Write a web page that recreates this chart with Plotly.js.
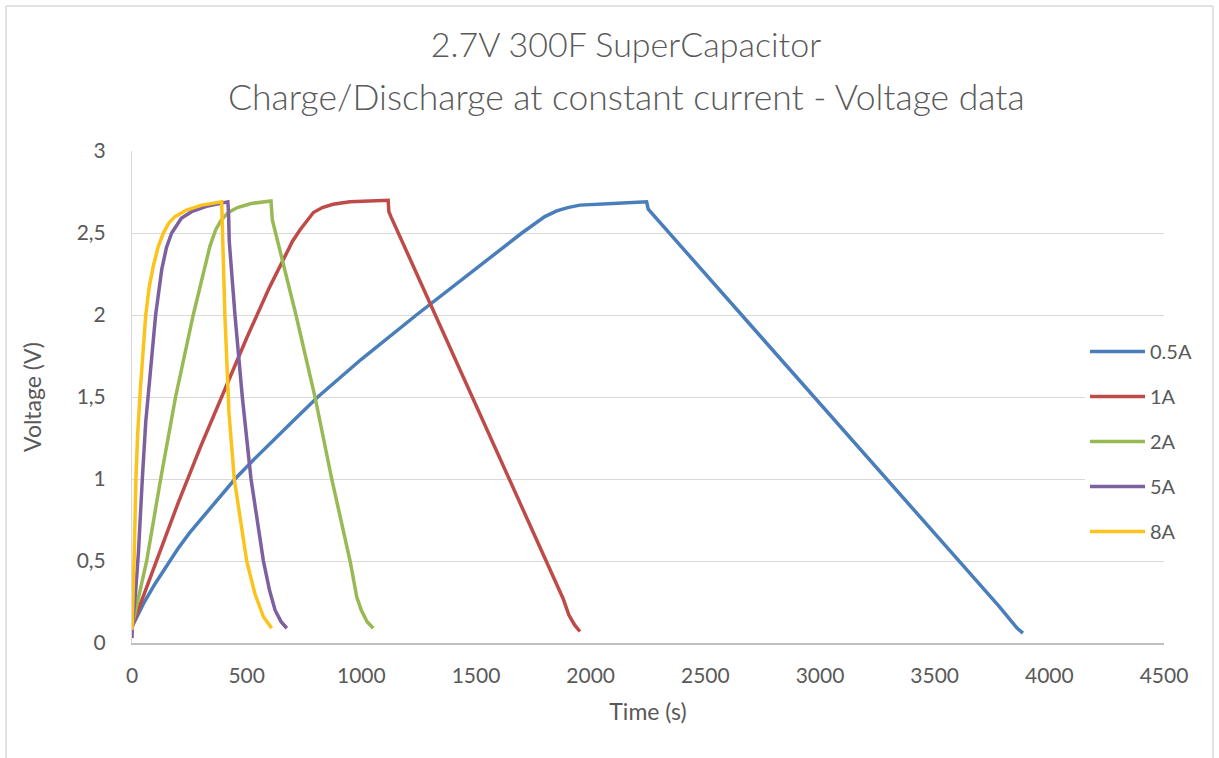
<!DOCTYPE html>
<html>
<head>
<meta charset="utf-8">
<script src="https://cdn.plot.ly/plotly-3.0.1.min.js"></script>
<style>
  html, body { margin: 0; padding: 0; background: #fff; }
  #chart { width: 1219px; height: 758px; }
</style>
</head>
<body>
<div id="chart"></div>
<script>
// Series names
const seriesNames = ['0.5A', '1A', '2A', '5A', '8A'];
const seriesColors = ['#4a7ebb', '#be4b48', '#98b954', '#7d60a0', '#fbc31c'];

// 0.5 A
const t05 = [0, 50, 100, 150, 200, 250, 300, 375, 449, 525, 600, 700, 810, 1000, 1240, 1450, 1700, 1800, 1852, 1900, 1953, 2098, 2244, 2251, 2400, 2700, 3000, 3300, 3600, 3780, 3830, 3860, 3885];
const v05 = [0.1, 0.24, 0.36, 0.47, 0.575, 0.67, 0.755, 0.88, 1.0, 1.11, 1.215, 1.35, 1.5, 1.73, 2.0, 2.23, 2.5, 2.6, 2.635, 2.655, 2.67, 2.68, 2.69, 2.645, 2.41, 1.935, 1.46, 0.985, 0.51, 0.225, 0.14, 0.09, 0.06];

// 1 A
const t1 = [0, 100, 200, 300, 400, 500, 600, 700, 733, 760, 791, 830, 877, 950, 1117, 1120, 1129, 1300, 1500, 1700, 1880, 1905, 1930, 1953];
const v1 = [0.1, 0.47, 0.85, 1.2, 1.53, 1.86, 2.17, 2.45, 2.52, 2.57, 2.625, 2.655, 2.675, 2.69, 2.70, 2.63, 2.60, 2.07, 1.45, 0.83, 0.27, 0.17, 0.11, 0.07];

// 2 A
const t2 = [0, 64, 125, 190, 267, 310, 340, 365, 390, 420, 460, 520, 606, 612, 715, 798, 871, 951, 965, 980, 1000, 1025, 1052];
const v2 = [0.1, 0.5, 1.0, 1.5, 2.0, 2.26, 2.42, 2.52, 2.58, 2.625, 2.655, 2.68, 2.695, 2.58, 2.0, 1.5, 1.0, 0.5, 0.38, 0.28, 0.2, 0.13, 0.09];

// 5 A
const t5 = [0, 2, 15, 28, 45, 60, 80, 103, 130, 150, 173, 215, 260, 330, 418, 421, 424, 449, 481, 519, 573, 600, 624, 650, 675];
const v5 = [0.03, 0.12, 0.3, 0.55, 1.0, 1.35, 1.65, 2.0, 2.28, 2.41, 2.5, 2.59, 2.63, 2.665, 2.69, 2.62, 2.45, 2.0, 1.5, 1.0, 0.5, 0.32, 0.2, 0.13, 0.09];

// 8 A
const t8 = [0, 3, 10, 17, 25, 37, 48, 60, 75, 93, 115, 137, 160, 187, 238, 304, 391, 394, 405, 420, 423, 446, 500, 536, 573, 609];
const v8 = [0.08, 0.3, 0.55, 1.0, 1.28, 1.56, 1.8, 2.0, 2.17, 2.3, 2.42, 2.5, 2.56, 2.6, 2.64, 2.67, 2.69, 2.5, 2.0, 1.5, 1.4, 1.0, 0.5, 0.3, 0.16, 0.09];

const xTickVals = [0, 500, 1000, 1500, 2000, 2500, 3000, 3500, 4000, 4500];
const yTickVals = [0, 0.5, 1, 1.5, 2, 2.5, 3];

const allT = [t05, t1, t2, t5, t8];
const allV = [v05, v1, v2, v5, v8];

const textColor = '#595959';
const fontFam = 'Lato, "Open Sans", sans-serif';

const traces = seriesNames.map((name, i) => ({
  type: 'scatter',
  mode: 'lines',
  name: name,
  x: allT[i],
  y: allV[i],
  legendgroup: 'g' + i,
  line: { color: seriesColors[i], width: 3.5 }
}));

const L = 132, R = 1164, T = 151, B = 643;
const W = R - L, H = B - T;
const px = x => (x - L) / W;
const py = y => (B - y) / H;

const layout = {
  width: 1219,
  height: 758,
  paper_bgcolor: '#ffffff',
  plot_bgcolor: '#ffffff',
  separators: ', ',
  margin: { l: L, r: 1219 - R, t: T, b: 758 - B, pad: 0 },
  font: { family: fontFam, color: textColor, size: 20 },
  title: {
    text: '2.7V 300F SuperCapacitor',
    font: { family: fontFam, size: 34, color: textColor, weight: 300 },
    xref: 'container', yref: 'container',
    x: 626 / 1219, xanchor: 'center',
    y: 1 - 45 / 758, yanchor: 'middle'
  },
  annotations: [{
    text: 'Charge/Discharge at constant current - Voltage data',
    xref: 'paper', yref: 'paper',
    x: px(626), y: py(97),
    xanchor: 'center', yanchor: 'middle',
    showarrow: false,
    font: { family: fontFam, size: 35.5, color: textColor, weight: 300 }
  }],
  xaxis: {
    range: [0, 4500],
    tickvals: xTickVals,
    ticktext: xTickVals.map(String),
    showgrid: false,
    zeroline: false,
    showline: true,
    linecolor: '#bfbfbf',
    linewidth: 1.5,
    ticks: '',
    ticklabelstandoff: 13,
    tickfont: { family: fontFam, size: 21, color: textColor },
    title: { text: 'Time (s)', font: { family: fontFam, size: 23, color: textColor }, standoff: 18 },
    automargin: false,
    fixedrange: true
  },
  yaxis: {
    range: [0, 3],
    tickvals: yTickVals,
    showgrid: true,
    gridcolor: '#d9d9d9',
    gridwidth: 1,
    zeroline: false,
    showline: true,
    linecolor: '#d9d9d9',
    linewidth: 1,
    ticks: '',
    ticklabelstandoff: 21,
    tickfont: { family: fontFam, size: 21, color: textColor },
    title: { text: 'Voltage (V)', font: { family: fontFam, size: 23, color: textColor }, standoff: 28 },
    automargin: false,
    fixedrange: true
  },
  showlegend: true,
  legend: {
    x: px(1085), xanchor: 'left',
    y: py(332), yanchor: 'top',
    bgcolor: '#ffffff',
    borderwidth: 0,
    traceorder: 'grouped',
    tracegroupgap: 16,
    itemwidth: 55,
    font: { family: fontFam, size: 20, color: textColor }
  },
  shapes: [
    { type: 'line', xref: 'paper', yref: 'paper', x0: px(6), x1: px(6), y0: py(6), y1: py(760), line: { color: '#d9d9d9', width: 1.5 } },
    { type: 'line', xref: 'paper', yref: 'paper', x0: px(6), x1: px(1213), y0: py(6), y1: py(6), line: { color: '#d9d9d9', width: 1.5 } },
    { type: 'line', xref: 'paper', yref: 'paper', x0: px(1213), x1: px(1213), y0: py(6), y1: py(760), line: { color: '#d9d9d9', width: 1.5 } }
  ]
};

Plotly.newPlot('chart', traces, layout, { displayModeBar: false, staticPlot: true });
</script>
</body>
</html>
